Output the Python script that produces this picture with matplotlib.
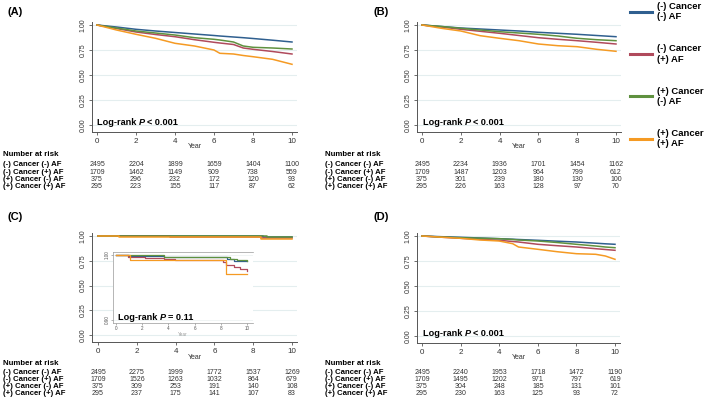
import matplotlib
matplotlib.use("Agg")
import matplotlib.pyplot as plt
from matplotlib import transforms
from matplotlib.lines import Line2D

plt.rcParams['font.family'] = ['Liberation Sans', 'DejaVu Sans']

W, H = 709, 411

# ---------------- data ----------------
groups = ["(-) Cancer (-) AF", "(-) Cancer (+) AF", "(+) Cancer (-) AF", "(+) Cancer (+) AF"]
legend_labels = ["(-) Cancer\n(-) AF", "(-) Cancer\n(+) AF", "(+) Cancer\n(-) AF", "(+) Cancer\n(+) AF"]
colors = ["#2f5f8f", "#b04a5c", "#5f913f", "#f59a23"]
risk_years = [0, 2, 4, 6, 8, 10]

# Panel A
tA = [0, 1, 2, 3, 4, 5, 6, 6.3, 7, 7.5, 8, 9, 10]
A_s = [
    [1, .980, .957, .940, .925, .910, .895, .890, .880, .873, .865, .848, .830],
    [1, .965, .930, .905, .883, .853, .827, .820, .805, .770, .757, .735, .710],
    [1, .970, .940, .920, .900, .873, .857, .850, .830, .790, .777, .770, .760],
    [1, .950, .907, .867, .817, .790, .750, .717, .710, .695, .683, .657, .607],
]
A_risk = [[2495, 2204, 1899, 1659, 1404, 1100],
          [1709, 1462, 1149, 909, 738, 559],
          [375, 296, 232, 172, 120, 93],
          [295, 223, 155, 117, 87, 62]]

# Panel B
tB = [0, 1, 2, 3, 4, 5, 6, 7, 8, 9, 10]
B_s = [
    [1, .985, .970, .960, .950, .940, .927, .917, .907, .895, .883],
    [1, .980, .957, .937, .917, .895, .873, .857, .843, .827, .810],
    [1, .985, .967, .950, .933, .920, .907, .890, .867, .853, .843],
    [1, .967, .940, .893, .867, .843, .810, .793, .783, .757, .737],
]
B_risk = [[2495, 2234, 1936, 1701, 1454, 1162],
          [1709, 1487, 1203, 964, 799, 612],
          [375, 301, 239, 180, 130, 100],
          [295, 226, 163, 128, 97, 70]]

# Panel C (step curves, also shown in the zoomed inset)
C_t = [
    [0, 1.0, 3.7, 8.5, 9.0, 10],
    [0, 0.9, 2.2, 3.7, 4.5, 8.2, 8.4, 9.0, 9.5, 10],
    [0, 3.7, 8.7, 9.2, 10],
    [0, 1.1, 8.4, 10],
]
C_s = [
    [1, .998, .9964, .994, .9913, .9913],
    [1, .9974, .9959, .9938, .9923, .9897, .9846, .981, .9785, .9759],
    [1, .9964, .994, .992, .9913],
    [1, .9923, .9708, .9708],
]
C_risk = [[2495, 2275, 1999, 1772, 1537, 1269],
          [1709, 1526, 1263, 1032, 864, 679],
          [375, 309, 253, 191, 140, 108],
          [295, 237, 175, 141, 107, 83]]

# Panel D
tD = [0, 1, 2, 3, 4, 4.7, 5, 6, 7, 8, 9, 9.5, 10]
D_s = [
    [1, .993, .987, .980, .973, .968, .965, .957, .948, .940, .928, .922, .917],
    [1, .988, .977, .967, .957, .945, .940, .917, .903, .890, .873, .865, .857],
    [1, .990, .983, .978, .973, .965, .960, .950, .935, .917, .900, .890, .883],
    [1, .988, .977, .960, .950, .923, .890, .867, .843, .823, .817, .800, .767],
]
D_risk = [[2495, 2240, 1953, 1718, 1472, 1190],
          [1709, 1495, 1202, 971, 797, 619],
          [375, 304, 248, 185, 131, 101],
          [295, 230, 163, 125, 93, 72]]

pvals = ["< 0.001", "< 0.001", "= 0.11", "< 0.001"]

# ---------------- figure ----------------
fig = plt.figure(figsize=(W / 100, H / 100), dpi=100)


def fx(x):
    return x / W


def fy(y):
    return 1 - y / H


def style_main(ax):
    for s in ["top", "right"]:
        ax.spines[s].set_visible(False)
    for s in ["left", "bottom"]:
        ax.spines[s].set_color("#555555")
        ax.spines[s].set_linewidth(0.7)
    ax.set_xticks(risk_years)
    ax.set_yticks([0, 0.25, 0.5, 0.75, 1.0])
    ax.set_yticklabels(["0.00", "0.25", "0.50", "0.75", "1.00"], rotation=90, va="center")
    ax.tick_params(axis="both", length=2.5, width=0.6, colors="#555555",
                   labelcolor="#333333", pad=1.5)
    ax.tick_params(axis="x", labelsize=5.8)
    ax.tick_params(axis="y", labelsize=5.0)
    ax.grid(axis="y", color="#e4eeef", linewidth=0.8)
    ax.set_axisbelow(True)


geo = {
    "A": dict(left=92, x0=97, x10=292, y1=25, y0=125, axis=132),
    "B": dict(left=417, x0=422, x10=616, y1=25, y0=125, axis=132),
    "C": dict(left=92, x0=98, x10=292, y1=236, y0=335, axis=342),
    "D": dict(left=417, x0=422, x10=615, y1=236, y0=336, axis=343),
}


def build(key):
    g = geo[key]
    ppy = (g["x10"] - g["x0"]) / 10
    right = g["x10"] + 5
    xl = (g["left"] - g["x0"]) / ppy
    xr = (right - g["x0"]) / ppy
    ppv = g["y0"] - g["y1"]
    top = g["y1"] - 3
    yb = -(g["axis"] - g["y0"]) / ppv
    yt = 1 + (g["y1"] - top) / ppv
    ax = fig.add_axes([fx(g["left"]), fy(g["axis"]), fx(right - g["left"]), (g["axis"] - top) / H])
    ax.set_xlim(xl, xr)
    ax.set_ylim(yb, yt)
    style_main(ax)
    return ax


axes = {k: build(k) for k in "ABCD"}

for ax, t, S in [(axes["A"], tA, A_s), (axes["B"], tB, B_s), (axes["D"], tD, D_s)]:
    for s, c in zip(S, colors):
        ax.plot(t, s, color=c, lw=1.1)

for t, s, c in zip(C_t, C_s, colors):
    axes["C"].plot(t, s, color=c, lw=1.1, drawstyle="steps-post")

# year labels
for key, ypx in [("A", 146), ("B", 146), ("C", 357), ("D", 357)]:
    g = geo[key]
    fig.text(fx((g["x0"] + g["x10"]) / 2), fy(ypx), "Year", ha="center", va="center",
             fontsize=5.0, color="#333333")

# panel labels
for lab, x, y in [("(A)", 7, 12), ("(B)", 374, 12), ("(C)", 7, 217), ("(D)", 374, 217)]:
    fig.text(fx(x), fy(y), lab, ha="left", va="center", fontsize=8, fontweight="bold")

# inset in C
inset = fig.add_axes([fx(113), fy(323), fx(253 - 113), (323 - 252) / H])
ppy_i = (247 - 116) / 10
inset.set_xlim((113 - 116) / ppy_i, (253 - 116) / ppy_i)
ppv_i = (320 - 255) / 0.10
inset.set_ylim(0.90 - (323 - 320) / ppv_i, 1.0 + (255 - 252) / ppv_i)
for t, s, c in zip(C_t, C_s, colors):
    inset.plot(t, s, color=c, lw=0.9, drawstyle="steps-post")
inset.set_xticks(risk_years)
inset.set_yticks([0.90, 1.00])
inset.set_yticklabels(["0.90", "1.00"], rotation=90, va="center")
inset.tick_params(labelsize=3.3, length=1.5, width=0.4, pad=1, colors="#777777", labelcolor="#555555")
inset.set_xlabel("Year", fontsize=3.3, labelpad=0.5, color="#999999")
inset.spines["right"].set_visible(False)
for s in ["left", "top", "bottom"]:
    inset.spines[s].set_color("#999999")
    inset.spines[s].set_linewidth(0.5)
inset.grid(axis="y", color="#eef3f3", linewidth=0.6)

# log-rank texts
fig.canvas.draw()
renderer = fig.canvas.get_renderer()
LR_SIZE = 6.6
for (x, y), pv in zip([(97, 122), (423, 122), (118, 317), (423, 333)], pvals):
    t1 = fig.text(fx(x), fy(y), "Log-rank ", ha="left", va="center", fontsize=LR_SIZE,
                  fontweight="bold")
    bb = t1.get_window_extent(renderer)
    t2 = fig.text(bb.x1 / W, fy(y), "P", ha="left", va="center", fontsize=LR_SIZE,
                  fontweight="bold", fontstyle="italic")
    bb2 = t2.get_window_extent(renderer)
    fig.text((bb2.x1 + 2) / W, fy(y), pv, ha="left", va="center", fontsize=LR_SIZE,
             fontweight="bold")

# risk tables
ab_rows = [155, 164.3, 172, 179.3, 186.7]
cd_rows = [363, 372.3, 379.3, 386.3, 393.3]
tables = [("A", A_risk, 3, ab_rows), ("B", B_risk, 325, ab_rows),
          ("C", C_risk, 3, cd_rows), ("D", D_risk, 325, cd_rows)]
for key, risk, xlab, ys in tables:
    ax = axes[key]
    trans = transforms.blended_transform_factory(ax.transData, fig.transFigure)
    fig.text(fx(xlab), fy(ys[0]), "Number at risk", ha="left", va="center", fontsize=5.7,
             fontweight="bold")
    for i, (gname, row) in enumerate(zip(groups, risk)):
        fig.text(fx(xlab), fy(ys[i + 1]), gname, ha="left", va="center", fontsize=5.6,
                 fontweight="bold")
        for yr, n in zip(risk_years, row):
            ax.text(yr, fy(ys[i + 1]), str(n), transform=trans, ha="center", va="center",
                    fontsize=5.0, color="#333333", clip_on=False)

# legend
handles = [Line2D([0], [0], color=c, lw=2.2) for c in colors]
leg = fig.legend(handles, legend_labels, loc="upper left", bbox_to_anchor=(fx(630), fy(2)),
                 frameon=False, fontsize=6.8, handlelength=2.3, labelspacing=2.42,
                 handletextpad=0.6, borderaxespad=0, borderpad=0)
for t in leg.get_texts():
    t.set_fontweight("bold")

fig.savefig("out.png", dpi=100)
